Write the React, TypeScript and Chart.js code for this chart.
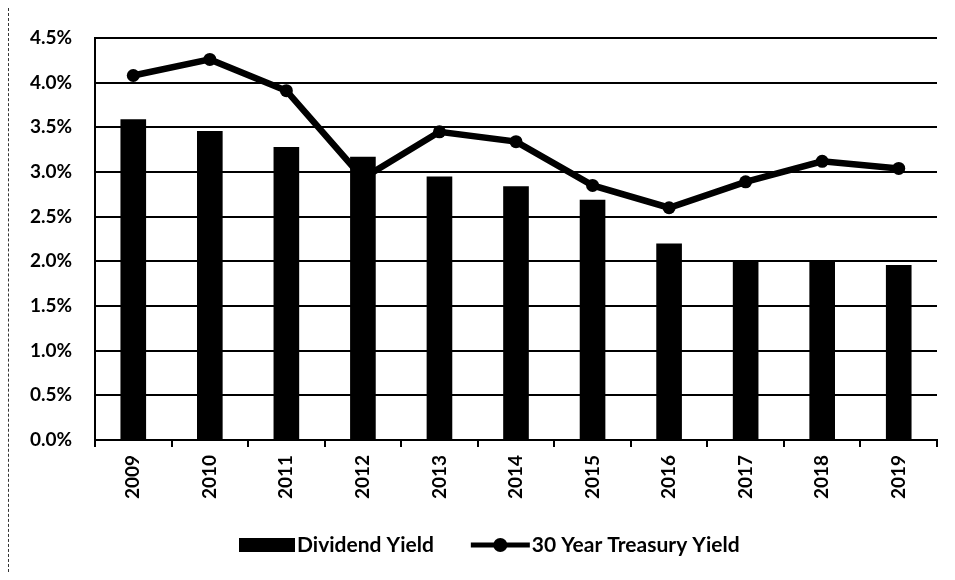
import React, { useEffect, useRef } from "react";
import { Chart, registerables } from "chart.js";

Chart.register(...registerables);

const years = ["2009", "2010", "2011", "2012", "2013", "2014", "2015", "2016", "2017", "2018", "2019"];
const dividendYield = [3.59, 3.46, 3.28, 3.17, 2.95, 2.84, 2.69, 2.2, 2.01, 2.01, 1.96];
const treasuryYield = [4.08, 4.26, 3.91, 2.93, 3.45, 3.34, 2.85, 2.6, 2.89, 3.12, 3.04];
const seriesNames = ["Dividend Yield", "30 Year Treasury Yield"];

const FONT = "Lato, 'Open Sans', sans-serif";

const customLegend = {
  id: "customLegend",
  afterDraw(chart: any) {
    const ctx = chart.ctx as CanvasRenderingContext2D;
    const area = chart.chartArea;
    const cy = area.bottom + 105;
    let x = area.left + 144;
    ctx.save();
    ctx.fillStyle = "#000";
    ctx.strokeStyle = "#000";
    ctx.font = `bold 21px ${FONT}`;
    ctx.textBaseline = "middle";
    ctx.textAlign = "left";
    ctx.fillRect(x, cy - 7, 56, 14);
    x += 58;
    ctx.fillText(seriesNames[0], x, cy);
    x += ctx.measureText(seriesNames[0]).width + 37;
    ctx.lineWidth = 5;
    ctx.beginPath();
    ctx.moveTo(x, cy);
    ctx.lineTo(x + 59, cy);
    ctx.stroke();
    ctx.beginPath();
    ctx.arc(x + 29.5, cy, 7, 0, Math.PI * 2);
    ctx.fill();
    x += 61;
    ctx.fillText(seriesNames[1], x, cy);
    ctx.restore();
  },
};

export default function App() {
  const ref = useRef<HTMLCanvasElement | null>(null);

  useEffect(() => {
    if (!ref.current) return;
    const chart = new Chart(ref.current, {
      type: "bar",
      data: {
        labels: years,
        datasets: [
          {
            type: "bar",
            label: seriesNames[0],
            data: dividendYield,
            backgroundColor: "#000",
            barPercentage: 0.335,
            categoryPercentage: 1,
            order: 1,
          },
          {
            type: "line",
            label: seriesNames[1],
            data: treasuryYield,
            borderColor: "#000",
            backgroundColor: "#000",
            borderWidth: 6.5,
            pointRadius: 6.5,
            pointBackgroundColor: "#000",
            pointBorderWidth: 0,
            tension: 0,
            order: 0,
          } as any,
        ],
      },
      plugins: [customLegend],
      options: {
        animation: false,
        responsive: true,
        maintainAspectRatio: false,
        layout: { padding: { top: 30, right: 10, left: 0, bottom: 62 } },
        plugins: {
          tooltip: { enabled: false },
          legend: { display: false },
        },
        scales: {
          x: {
            offset: true,
            afterFit: (s: any) => {
              s.height = 70;
              s.paddingLeft = 0;
              s.paddingRight = 0;
            },
            grid: {
              display: true,
              offset: true,
              drawOnChartArea: false,
              drawTicks: true,
              tickLength: 7,
              color: "#000",
              lineWidth: 2,
            },
            border: { display: true, color: "#000", width: 2 },
            ticks: {
              color: "#000",
              maxRotation: 90,
              minRotation: 90,
              padding: 8,
              font: { family: FONT, size: 19, weight: "bold" },
            },
          },
          y: {
            min: 0,
            max: 4.5,
            afterFit: (s: any) => {
              s.width = 86;
              s.paddingTop = 0;
              s.paddingBottom = 0;
            },
            ticks: {
              stepSize: 0.5,
              color: "#000",
              padding: 23,
              font: { family: FONT, size: 19, weight: "bold" },
              callback: (v: any) => Number(v).toFixed(1) + "%",
            },
            grid: {
              color: "#000",
              lineWidth: 2,
              drawTicks: false,
            },
            border: { display: true, color: "#000", width: 2 },
          },
        },
      },
    });
    return () => chart.destroy();
  }, []);

  return (
    <div style={{ width: 939, height: 564, position: "relative", borderLeft: "1px dashed #333", boxSizing: "border-box" }}>
      <canvas ref={ref} />
    </div>
  );
}
